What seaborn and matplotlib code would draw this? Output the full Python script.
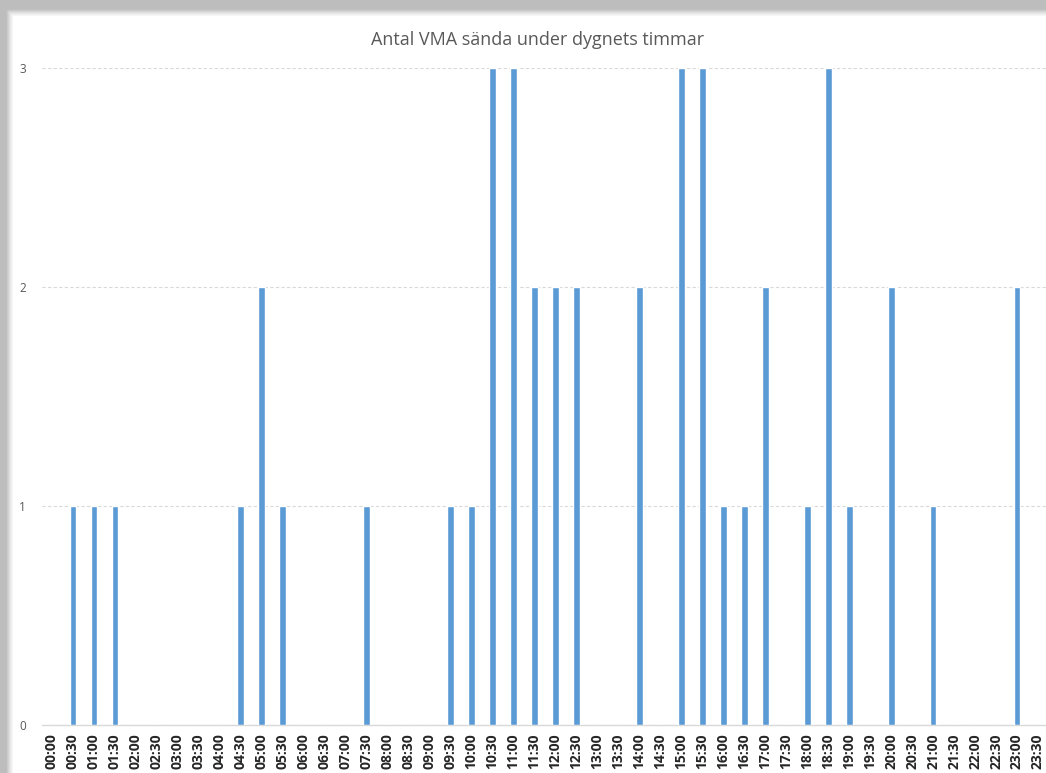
import matplotlib
matplotlib.use("Agg")
import matplotlib.pyplot as plt
import pandas as pd
import seaborn as sns
from matplotlib.patches import Rectangle

# half-hour slots of the day
times = [f"{h:02d}:{m:02d}" for h in range(24) for m in (0, 30)]

# number of VMA sent per slot (slots not listed are 0)
counts_by_time = {
    "00:30": 1, "01:00": 1, "01:30": 1,
    "04:30": 1, "05:00": 2, "05:30": 1,
    "07:30": 1,
    "09:30": 1, "10:00": 1, "10:30": 3, "11:00": 3, "11:30": 2,
    "12:00": 2, "12:30": 2,
    "14:00": 2,
    "15:00": 3, "15:30": 3, "16:00": 1, "16:30": 1, "17:00": 2,
    "18:00": 1, "18:30": 3, "19:00": 1,
    "20:00": 2,
    "21:00": 1,
    "23:00": 2,
}
counts = [counts_by_time.get(t, 0) for t in times]
y_ticks = [0, 1, 2, 3]

df = pd.DataFrame({"tid": times, "antal": counts})

sns.set_style("white")
plt.rcParams["font.family"] = ["Open Sans", "DejaVu Sans"]

fig = plt.figure(figsize=(10.46, 7.73), dpi=100)
fig.patch.set_facecolor("#bdbdbd")

# shadow frame like the screenshot, white chart area
W, H = 1046, 773
shades = ["#c8c8c8", "#d3d3d3", "#dddddd", "#e6e6e6", "#eeeeee", "#f5f5f5"]
for i, c in enumerate(shades):
    fig.patches.append(Rectangle(((7 + i) / W, 0), 1, (H - 10 - i) / H,
                                 transform=fig.transFigure, color=c, zorder=-10 + i))
fig.patches.append(Rectangle((13 / W, 0), 1, (H - 16) / H,
                             transform=fig.transFigure, color="white", zorder=-3))

ax = fig.add_axes([41.5 / W, 48 / H, 1007 / W, 657 / H])
ax.set_facecolor("none")

sns.barplot(data=df, x="tid", y="antal", color="#5b9bd5", width=0.32,
            saturation=1, ax=ax, zorder=3)

ax.set_xlim(-0.5, len(times) - 0.5)
ax.set_ylim(0, 3)
ax.set_yticks(y_ticks)
ax.set_yticklabels([str(v) for v in y_ticks], color="#595959", fontsize=8.5)
ax.grid(axis="y", color="#d9d9d9", linestyle=(0, (3, 2)), linewidth=0.8, zorder=0)

ax.set_xticks(range(len(times)))
ax.set_xticklabels(times, rotation=90, fontsize=10, fontweight="bold", color="#262626")
ax.tick_params(axis="x", length=0, pad=6)
ax.tick_params(axis="y", length=0, pad=11)

for side in ("top", "right", "left"):
    ax.spines[side].set_visible(False)
ax.spines["bottom"].set_color("#d9d9d9")
ax.spines["bottom"].set_linewidth(1)

ax.set_xlabel("")
ax.set_ylabel("")

fig.text(538 / W, 1 - 40 / H, "Antal VMA sända under dygnets timmar",
         ha="center", va="center", fontsize=13, color="#595959")

fig.savefig("out.png", dpi=100)
